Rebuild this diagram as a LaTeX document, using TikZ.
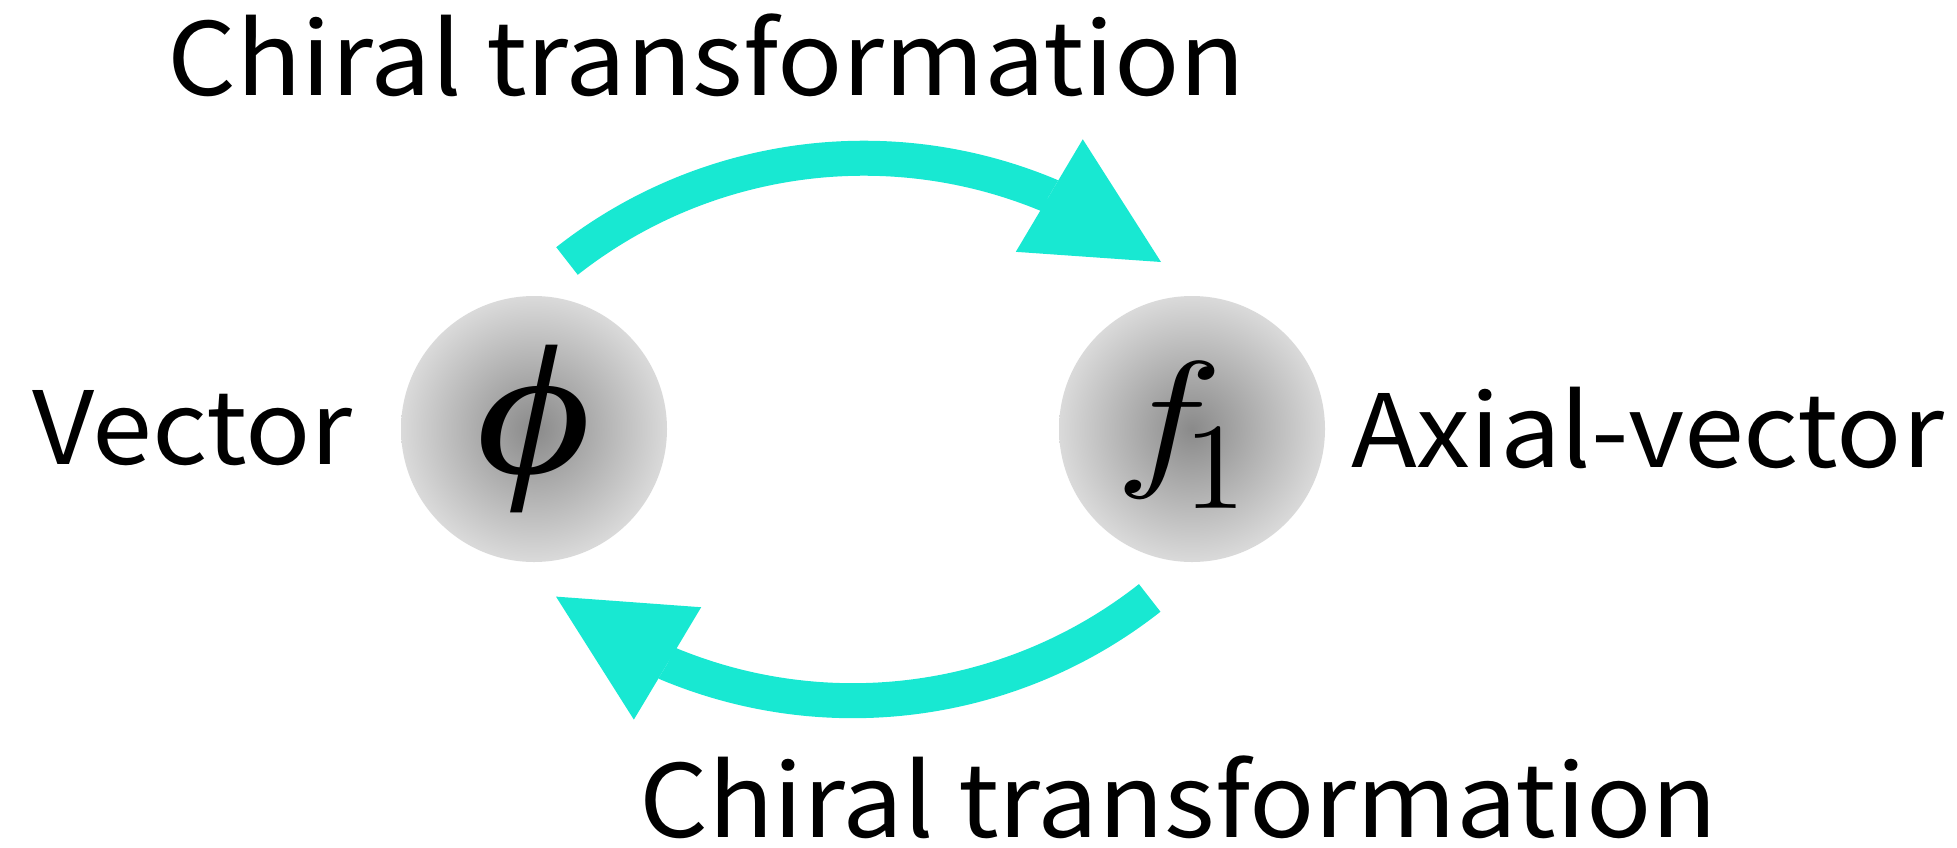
\documentclass[tikz,border=0pt]{standalone}
\usepackage{graphicx}
\usepackage{fontspec}
\setmainfont[FakeStretch=1.07]{Noto Sans CJK JP}
\newfontfamily\tms{Liberation Serif}
\usetikzlibrary{arrows.meta}
\definecolor{turq}{RGB}{24,232,210}
\definecolor{ballin}{RGB}{138,138,138}
\definecolor{ballout}{RGB}{218,218,218}
\tikzset{
  lbl/.style={font=\fontsize{101}{110}\selectfont, inner sep=0pt, anchor=base west},
  ball/.style={circle, minimum size=266pt, inner sep=0pt, inner color=ballin, outer color=ballout},
  sym/.style={inner sep=0pt},
  chiral/.style={draw=turq, line width=35pt, -{Triangle[length=130pt, width=131pt, line width=0pt, fill=turq]}},
}
\begin{document}
\begin{tikzpicture}[x=1pt,y=1pt]
\useasboundingbox (0,0) rectangle (1957,-847);
\node[ball] (V) at (534,-429) {};
\node[ball] (A) at (1192,-429) {};
\node[sym, font=\tms\itshape\fontsize{185}{185}\selectfont] (phi) at (534,-429) {\scalebox{1.2}[1]{ϕ}};
\node[sym, anchor=base west] (f1) at (1115,-468) {\scalebox{18}[15.3]{$f$}\kern-38pt\raisebox{-40pt}{\scalebox{12.3}{$1$}}};
\node[lbl] (vlab) at (32,-464) {Vector};
\node[lbl] (alab) at (1351,-467) {Axial-vector};
\node[lbl] (ctop) at (167,-95) {Chiral transformation};
\node[lbl] (cbot) at (639,-837) {Chiral transformation};
\coordinate (t1s) at (567,-261);
\coordinate (t1e) at (1161,-262);
\coordinate (t2s) at (1149.7,-597.9);
\coordinate (t2e) at (556,-596.6);
\draw[chiral] (t1s) arc[start angle=128.2, end angle=67.3, radius=480] -- (t1e);
\draw[chiral] (t2s) arc[start angle=308.2, end angle=247.3, radius=480] -- (t2e);
\end{tikzpicture}
\end{document}
